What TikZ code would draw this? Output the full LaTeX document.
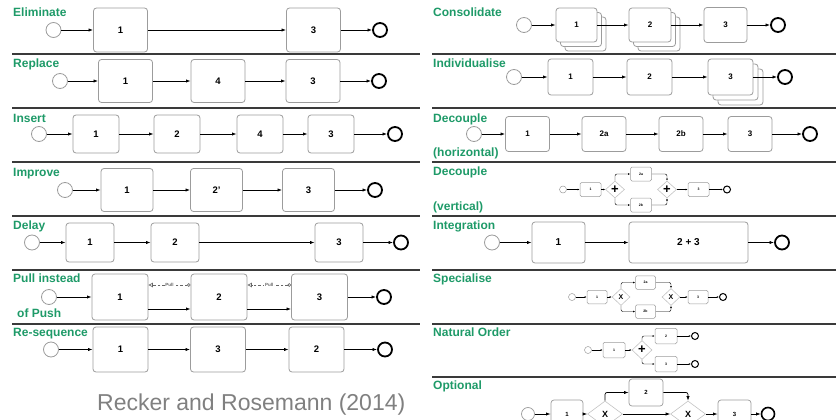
\documentclass[tikz,border=0pt]{standalone}
\usepackage{fontspec}
\setmainfont{Liberation Sans}
\definecolor{Lblcol}{HTML}{1E9A68}
\definecolor{Boxcol}{HTML}{9C9C9C}
\definecolor{Rulecol}{HTML}{3A3A3A}
\definecolor{Refcol}{HTML}{808080}
\usetikzlibrary{arrows.meta, shapes.geometric, shadows}
\tikzset{
    >={Latex[length=4.5pt,width=3.2pt]},
    task/.style={draw=Boxcol, line width=0.8pt, rounded corners=3pt, fill=white,
        minimum width=54pt, minimum height=44pt, inner sep=0pt,
        font=\bfseries\fontsize{9.5}{10}\selectfont},
    minitask/.style={task, line width=0.5pt, rounded corners=1.5pt,
        font=\bfseries\fontsize{3.5}{4}\selectfont},
    event/.style={circle, draw=Boxcol, line width=0.8pt, fill=white, minimum size=15pt, inner sep=0pt},
    endevent/.style={circle, draw=black, line width=1.8pt, fill=white, minimum size=14pt, inner sep=0pt},
    gate/.style={diamond, draw=Boxcol!60, line width=0.6pt, fill=white, inner sep=0pt,
        font=\bfseries\fontsize{13}{13}\selectfont},
    flow/.style={->, line width=0.7pt},
    miniflow/.style={-{Latex[length=2.2pt,width=1.8pt]}, line width=0.45pt, rounded corners=2pt},
    rowtitle/.style={anchor=base west, text=Lblcol, inner sep=0pt,
        font=\bfseries\fontsize{12}{14}\selectfont},
    rowrule/.style={draw=Rulecol, line width=1.6pt},
    pullflow/.style={draw=gray!80!black, dashed, dash pattern=on 2.5pt off 2pt, line width=0.7pt,
        {Circle[open,length=3.5pt]}-{Triangle[open,length=4.5pt,width=4.5pt]}},
    pulltag/.style={fill=white, text=gray!80!black, inner sep=0.8pt, font=\bfseries\fontsize{4.5}{5}\selectfont},
    stacked/.style={
        copy shadow={shadow xshift=#1*2, shadow yshift=-#1*2, draw=Boxcol, line width=0.8pt},
        copy shadow={shadow xshift=#1, shadow yshift=-#1, draw=Boxcol, line width=0.8pt}}
}

\begin{document}
\begin{tikzpicture}[x=1pt, y=-1pt]
    \useasboundingbox (0,0) rectangle (836,420);
    \clip (0,0) rectangle (836,420);

    % row separators
    \foreach \y in {54,108,162,216,270,324}
        \draw[rowrule] (12,\y) -- (420,\y);
    \foreach \y in {54,108,162,216,270,324,377}
        \draw[rowrule] (432,\y) -- (836,\y);

    % row titles
    \foreach \name/\x/\y/\txt in {el-t/13/17/Eliminate, rp-t/13/68/Replace, in-t/13/122/Insert,
            im-t/13/176/Improve, dl-t/13/229/Delay, pl-t/13/282/Pull instead, pl-u/17/317/of Push,
            rs-t/13/336/Re-sequence, co-t/433/17/Consolidate, iv-t/433/68/Individualise,
            dh-t/433/122/Decouple, dh-u/433/157/(horizontal), dv-t/433/175/Decouple,
            dv-u/433/210/(vertical), ig-t/433/229/Integration, sp-t/433/282/Specialise,
            no-t/433/336/Natural Order, op-t/433/389/Optional}
        \node[rowtitle] (\name) at (\x,\y) {\txt};

    % Eliminate
    \begin{scope}[shift={(0,30)}]
        \node[event] (el-s) at (53.5,0) {};
        \node[task] (el-1) at (120.5,0) {1};
        \node[task] (el-3) at (313.5,0) {3};
        \node[endevent] (el-e) at (380,0) {};
        \foreach \a/\b in {s/1,1/3,3/e} \draw[flow] (el-\a) -- (el-\b);
    \end{scope}

    % Replace
    \begin{scope}[shift={(0,81)}, task/.append style={minimum height=43pt}]
        \node[event] (rp-s) at (60,0) {};
        \node[task] (rp-1) at (125.5,0) {1};
        \node[task] (rp-4) at (218,0) {4};
        \node[task] (rp-3) at (313,0) {3};
        \node[endevent] (rp-e) at (379,0) {};
        \foreach \a/\b in {s/1,1/4,4/3,3/e} \draw[flow] (rp-\a) -- (rp-\b);
    \end{scope}

    % Insert
    \begin{scope}[shift={(0,134)}, task/.append style={minimum width=46pt, minimum height=38pt}]
        \node[event] (in-s) at (39,0) {};
        \node[task] (in-1) at (96,0) {1};
        \node[task] (in-2) at (177,0) {2};
        \node[task] (in-4) at (260,0) {4};
        \node[task] (in-3) at (331,0) {3};
        \node[endevent] (in-e) at (395,0) {};
        \foreach \a/\b in {s/1,1/2,2/4,4/3,3/e} \draw[flow] (in-\a) -- (in-\b);
    \end{scope}

    % Improve
    \begin{scope}[shift={(0,190)}, task/.append style={minimum width=52pt, minimum height=43pt}]
        \node[event] (im-s) at (65,0) {};
        \node[task] (im-1) at (127,0) {1};
        \node[task] (im-2) at (216.5,0) {2'};
        \node[task] (im-3) at (308.5,0) {3};
        \node[endevent] (im-e) at (375,0) {};
        \foreach \a/\b in {s/1,1/2,2/3,3/e} \draw[flow] (im-\a) -- (im-\b);
    \end{scope}

    % Delay
    \begin{scope}[shift={(0,242.5)}, task/.append style={minimum width=48pt, minimum height=39pt}]
        \node[event] (dl-s) at (32,0) {};
        \node[task] (dl-1) at (90,0) {1};
        \node[task] (dl-2) at (175,0) {2};
        \node[task] (dl-3) at (339,0) {3};
        \node[endevent] (dl-e) at (401,0) {};
        \foreach \a/\b in {s/1,1/2,2/3,3/e} \draw[flow] (dl-\a) -- (dl-\b);
    \end{scope}

    % Pull instead of Push
    \begin{scope}[shift={(0,297)}, task/.append style={minimum width=56pt, minimum height=46pt}]
        \node[event] (pl-s) at (49,0) {};
        \node[task] (pl-1) at (120,0) {1};
        \node[task] (pl-2) at (219,0) {2};
        \node[task] (pl-3) at (319.5,0) {3};
        \node[endevent] (pl-e) at (384,0) {};
        \draw[flow] (pl-s) -- (pl-1);
        \draw[flow] ([yshift=-12pt]pl-1.east) -- ([yshift=-12pt]pl-2.west);
        \draw[flow] ([yshift=-12pt]pl-2.east) -- ([yshift=-12pt]pl-3.west);
        \draw[flow] (pl-3) -- (pl-e);
        \draw[pullflow] ([yshift=12pt]pl-2.west) -- node[pulltag] {Pull} ([yshift=12pt]pl-1.east);
        \draw[pullflow] ([yshift=12pt]pl-3.west) -- node[pulltag] {Pull} ([yshift=12pt]pl-2.east);
    \end{scope}

    % Re-sequence
    \begin{scope}[shift={(0,349.5)}, task/.append style={minimum width=55pt, minimum height=45pt}]
        \node[event] (rs-s) at (51,0) {};
        \node[task] (rs-1) at (120.5,0) {1};
        \node[task] (rs-3) at (218,0) {3};
        \node[task] (rs-2) at (316.5,0) {2};
        \node[endevent] (rs-e) at (385,0) {};
        \foreach \a/\b in {s/1,1/3,3/2,2/e} \draw[flow] (rs-\a) -- (rs-\b);
    \end{scope}

    \node[anchor=base west, text=Refcol, inner sep=0pt, font=\fontsize{23}{26}\selectfont]
        (cite) at (97,410) {Recker and Rosemann (2014)};

    % Consolidate
    \begin{scope}[shift={(0,25)}, task/.append style={minimum width=42pt, minimum height=34pt,
            font=\bfseries\fontsize{8}{9}\selectfont}]
        \node[event] (co-s) at (524,0) {};
        \node[task, stacked=4.5pt, minimum width=41pt] (co-1) at (576.5,0) {1};
        \node[task, stacked=4.5pt] (co-2) at (650,0) {2};
        \node[task, minimum width=43pt, minimum height=35pt] (co-3) at (725.5,0) {3};
        \node[endevent] (co-e) at (778,0) {};
        \foreach \a/\b in {s/1,1/2,2/3,3/e} \draw[flow] (co-\a) -- (co-\b);
    \end{scope}

    % Individualise
    \begin{scope}[shift={(0,77)}, task/.append style={minimum width=45pt, minimum height=36pt,
            font=\bfseries\fontsize{8}{9}\selectfont}]
        \node[event] (iv-s) at (514,0) {};
        \node[task] (iv-1) at (570.5,0) {1};
        \node[task] (iv-2) at (649.5,0) {2};
        \node[task, stacked=5pt] (iv-3) at (730.5,0) {3};
        \node[endevent] (iv-e) at (785,0) {};
        \foreach \a/\b in {s/1,1/2,2/3,3/e} \draw[flow] (iv-\a) -- (iv-\b);
    \end{scope}

    % Decouple (horizontal)
    \begin{scope}[shift={(0,134)}, task/.append style={minimum width=44pt, minimum height=35pt,
            font=\bfseries\fontsize{8}{9}\selectfont}]
        \node[event] (dh-s) at (474,0) {};
        \node[task] (dh-1) at (527.5,0) {1};
        \node[task] (dh-2a) at (604,0) {2a};
        \node[task] (dh-2b) at (681,0) {2b};
        \node[task] (dh-3) at (750,0) {3};
        \node[endevent] (dh-e) at (810,0) {};
        \foreach \a/\b in {s/1,1/2a,2a/2b,2b/3,3/e} \draw[flow] (dh-\a) -- (dh-\b);
    \end{scope}

    % Decouple (vertical)
    \begin{scope}[shift={(0,189.5)}, minitask/.append style={minimum width=21pt, minimum height=14pt}]
        \node[event, minimum size=7pt, line width=0.5pt] (dv-s) at (563,0) {};
        \node[minitask] (dv-1) at (590.5,0) {1};
        \node[gate, minimum width=19pt, minimum height=17pt] (dv-g1) at (615,0) {+};
        \node[minitask] (dv-2a) at (641,-15.5) {2a};
        \node[minitask] (dv-2b) at (641,15.5) {2b};
        \node[gate, minimum width=19pt, minimum height=17pt] (dv-g2) at (667,0) {+};
        \node[minitask] (dv-3) at (698.5,0) {3};
        \node[endevent, minimum size=7pt, line width=1pt] (dv-e) at (727,0) {};
        \foreach \a/\b in {s/1,1/g1,g2/3,3/e} \draw[miniflow] (dv-\a) -- (dv-\b);
        \draw[miniflow] (dv-g1.north) |- (dv-2a);
        \draw[miniflow] (dv-g1.south) |- (dv-2b);
        \draw[miniflow] (dv-2a) -| (dv-g2.north);
        \draw[miniflow] (dv-2b) -| (dv-g2.south);
    \end{scope}

    % Integration
    \begin{scope}[shift={(0,242.5)}, task/.append style={minimum width=53pt, minimum height=41pt,
            font=\bfseries\fontsize{10}{11}\selectfont}]
        \node[event] (ig-s) at (492,0) {};
        \node[task] (ig-1) at (558.5,0) {1};
        \node[task, minimum width=119pt] (ig-23) at (688.5,0) {2 + 3};
        \node[endevent] (ig-e) at (782,0) {};
        \foreach \a/\b in {s/1,1/23,23/e} \draw[flow] (ig-\a) -- (ig-\b);
    \end{scope}

    % Specialise
    \begin{scope}[shift={(0,297)}, minitask/.append style={minimum width=20pt, minimum height=13.5pt},
            gate/.append style={font=\bfseries\fontsize{7}{7}\selectfont}]
        \node[event, minimum size=7pt, line width=0.5pt] (sp-s) at (572,0) {};
        \node[minitask] (sp-1) at (597,0) {1};
        \node[gate, minimum width=18pt, minimum height=17pt] (sp-g1) at (621,0) {X};
        \node[minitask] (sp-2a) at (645.5,-14.5) {2a};
        \node[minitask] (sp-2b) at (645.5,14.5) {2b};
        \node[gate, minimum width=18pt, minimum height=17pt] (sp-g2) at (671,0) {X};
        \node[minitask] (sp-3) at (698,0) {3};
        \node[endevent, minimum size=7pt, line width=1pt] (sp-e) at (723,0) {};
        \foreach \a/\b in {s/1,1/g1,g2/3,3/e} \draw[miniflow] (sp-\a) -- (sp-\b);
        \draw[miniflow] (sp-g1.north) |- (sp-2a);
        \draw[miniflow] (sp-g1.south) |- (sp-2b);
        \draw[miniflow] (sp-2a) -| (sp-g2.north);
        \draw[miniflow] (sp-2b) -| (sp-g2.south);
    \end{scope}

    % Natural Order
    \begin{scope}[shift={(0,350)}, minitask/.append style={minimum width=22pt, minimum height=15.5pt}]
        \node[event, minimum size=7pt, line width=0.5pt] (no-s) at (588,0) {};
        \node[minitask] (no-1) at (614,0) {1};
        \node[gate, minimum width=20pt, minimum height=19pt] (no-g) at (642,0) {+};
        \node[minitask] (no-2) at (666,-14) {2};
        \node[minitask] (no-3) at (666,14) {3};
        \node[endevent, minimum size=7pt, line width=1pt] (no-e2) at (695,-14) {};
        \node[endevent, minimum size=7pt, line width=1pt] (no-e3) at (695,14) {};
        \foreach \a/\b in {s/1,1/g,2/e2,3/e3} \draw[miniflow] (no-\a) -- (no-\b);
        \draw[miniflow] (no-g.north) |- (no-2);
        \draw[miniflow] (no-g.south) |- (no-3);
    \end{scope}

    % Optional
    \begin{scope}[shift={(0,414)}, task/.append style={minimum width=33pt, minimum height=28pt,
            line width=0.7pt, font=\bfseries\fontsize{6}{7}\selectfont},
            gate/.append style={font=\bfseries\fontsize{9}{9}\selectfont}]
        \node[event, minimum size=13pt, line width=0.7pt] (op-s) at (528,0) {};
        \node[task, minimum width=32pt] (op-1) at (567,0) {1};
        \node[gate, minimum width=35pt, minimum height=26pt] (op-g1) at (605,0) {X};
        \node[task, minimum width=34pt, minimum height=27pt] (op-2) at (646,-21.5) {2};
        \node[gate, minimum width=35pt, minimum height=26pt] (op-g2) at (688,0) {X};
        \node[task] (op-3) at (734.5,0) {3};
        \node[endevent, minimum size=13pt, line width=1.6pt] (op-e) at (768,0) {};
        \foreach \a/\b in {s/1,1/g1,g1/g2,g2/3,3/e} \draw[flow] (op-\a) -- (op-\b);
        \draw[flow, rounded corners=2pt] (op-g1.north) |- (op-2);
        \draw[flow, rounded corners=2pt] (op-2) -| (op-g2.north);
    \end{scope}
\end{tikzpicture}
\end{document}
